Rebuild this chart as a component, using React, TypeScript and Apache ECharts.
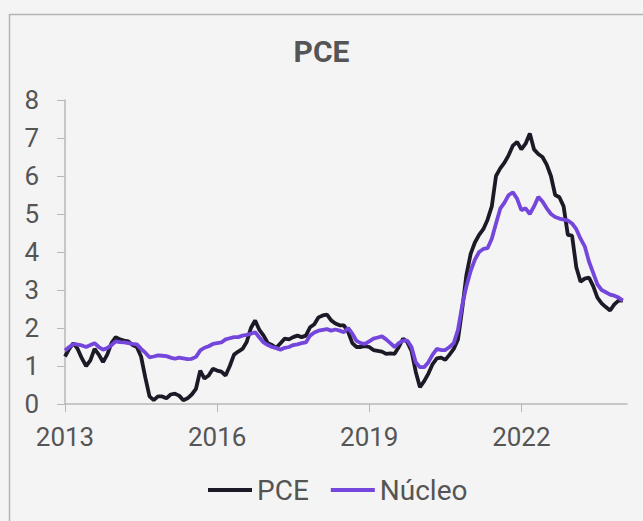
import React, { useEffect, useRef } from "react";
import * as echarts from "echarts";

const startYear = 2013;
const monthCount = 134;
const categories: string[] = Array.from({ length: monthCount }, (_, i) => {
  const y = startYear + Math.floor(i / 12);
  const m = (i % 12) + 1;
  return `${y}-${m < 10 ? "0" + m : m}`;
});

const pce: number[] = [
  1.25, 1.45, 1.6, 1.45, 1.2, 1.0, 1.15, 1.45, 1.3, 1.1, 1.3, 1.6,
  1.76, 1.7, 1.67, 1.65, 1.55, 1.5, 1.25, 0.7, 0.2, 0.1, 0.2, 0.2,
  0.15, 0.25, 0.27, 0.22, 0.1, 0.15, 0.25, 0.4, 0.88, 0.67, 0.75, 0.93,
  0.88, 0.85, 0.75, 1.0, 1.3, 1.38, 1.45, 1.63, 2.0, 2.2, 1.95, 1.8,
  1.6, 1.55, 1.48, 1.6, 1.72, 1.7, 1.76, 1.8, 1.76, 1.8, 2.02, 2.1,
  2.28, 2.33, 2.35, 2.2, 2.12, 2.07, 2.07, 1.9, 1.6, 1.5, 1.5, 1.52,
  1.5, 1.42, 1.4, 1.38, 1.32, 1.33, 1.32, 1.5, 1.72, 1.63, 1.4, 0.85,
  0.44, 0.6, 0.8, 1.05, 1.2, 1.22, 1.16, 1.3, 1.45, 1.7, 2.5, 3.4,
  3.95, 4.25, 4.45, 4.6, 4.85, 5.2, 6.0, 6.2, 6.35, 6.55, 6.8, 6.9,
  6.7, 6.85, 7.12, 6.7, 6.58, 6.5, 6.3, 6.0, 5.5, 5.44, 5.2, 4.45,
  4.43, 3.6, 3.22, 3.3, 3.33, 3.1, 2.8, 2.65, 2.55, 2.46, 2.62, 2.72,
  2.72,
];

const nucleo: number[] = [
  1.41, 1.5, 1.58, 1.56, 1.54, 1.5, 1.55, 1.6, 1.5, 1.43, 1.47, 1.55,
  1.65, 1.63, 1.62, 1.6, 1.58, 1.57, 1.45, 1.35, 1.23, 1.25, 1.28, 1.27,
  1.26, 1.22, 1.19, 1.22, 1.2, 1.18, 1.19, 1.24, 1.41, 1.48, 1.52, 1.58,
  1.6, 1.62, 1.7, 1.73, 1.76, 1.76, 1.8, 1.82, 1.85, 1.89, 1.75, 1.62,
  1.55, 1.5, 1.47, 1.43, 1.48, 1.5, 1.55, 1.57, 1.6, 1.62, 1.8, 1.88,
  1.93, 1.95, 1.97, 1.93, 1.96, 1.93, 1.89, 2.0, 1.85, 1.66, 1.6, 1.58,
  1.65, 1.72, 1.75, 1.78, 1.7, 1.6, 1.5, 1.6, 1.67, 1.67, 1.5, 1.1,
  0.97, 0.97, 1.1, 1.3, 1.45, 1.42, 1.42, 1.5, 1.6, 1.95, 2.6, 3.1,
  3.5, 3.8, 4.0, 4.08, 4.1, 4.35, 4.75, 5.14, 5.3, 5.5, 5.57, 5.4,
  5.1, 5.15, 5.0, 5.2, 5.45, 5.33, 5.15, 5.0, 4.92, 4.88, 4.85, 4.83,
  4.75, 4.6, 4.35, 4.15, 3.75, 3.45, 3.15, 3.0, 2.94, 2.88, 2.85, 2.8,
  2.72,
];

const yTicks = { min: 0, max: 8, interval: 1 };
const seriesNames = ["PCE", "Núcleo"];
const seriesColors = ["#1b1a26", "#7446dc"];

export default function App() {
  const ref = useRef<HTMLDivElement>(null);
  useEffect(() => {
    if (!ref.current) return;
    const chart = echarts.init(ref.current, null, { renderer: "svg" });
    const font = "Roboto, 'Noto Sans', sans-serif";
    chart.setOption({
      animation: false,
      backgroundColor: "#f4f4f4",
      textStyle: { fontFamily: font },
      graphic: [
        {
          type: "rect",
          shape: { x: 9.5, y: 14.5, width: 700, height: 600 },
          style: { fill: "none", stroke: "#b5b5b5", lineWidth: 1.5 },
          silent: true,
        },
      ],
      title: {
        text: "PCE",
        left: "center",
        top: 31,
        textStyle: { fontFamily: font, fontSize: 30, fontWeight: "bold", color: "#555555" },
      },
      legend: {
        bottom: 12,
        left: 203,
        icon: "rect",
        itemWidth: 44,
        itemHeight: 4,
        itemGap: 22,
        textStyle: { fontFamily: font, fontSize: 28, color: "#555555" },
        data: seriesNames,
      },
      grid: { left: 65, right: 16, top: 100, bottom: 117, containLabel: false },
      xAxis: {
        type: "category",
        boundaryGap: false,
        data: categories,
        axisLine: { lineStyle: { color: "#b8b8b8", width: 1.5 } },
        axisTick: { interval: 35, length: 8, lineStyle: { color: "#b8b8b8" } },
        axisLabel: {
          interval: 35,
          margin: 20,
          fontSize: 26,
          color: "#555555",
          fontFamily: font,
          formatter: (v: string) => v.slice(0, 4),
        },
        splitLine: { show: false },
      },
      yAxis: {
        type: "value",
        min: yTicks.min,
        max: yTicks.max,
        interval: yTicks.interval,
        axisLine: { show: true, lineStyle: { color: "#b8b8b8", width: 1.5 } },
        axisTick: { show: true, length: 8, lineStyle: { color: "#b8b8b8" } },
        axisLabel: { margin: 26, fontSize: 26, color: "#555555", fontFamily: font },
        splitLine: { show: false },
      },
      series: [
        {
          name: seriesNames[0],
          type: "line",
          data: pce,
          symbol: "none",
          color: seriesColors[0],
          lineStyle: { width: 3.8, color: seriesColors[0] },
        },
        {
          name: seriesNames[1],
          type: "line",
          data: nucleo,
          symbol: "none",
          color: seriesColors[1],
          lineStyle: { width: 3.8, color: seriesColors[1] },
        },
      ],
    });
    return () => chart.dispose();
  }, []);
  return (
    <div
      style={{ position: "fixed", left: 0, top: 0, width: 643, height: 521, background: "#f4f4f4" }}
    >
      <div ref={ref} style={{ width: 643, height: 521 }} />
    </div>
  );
}
